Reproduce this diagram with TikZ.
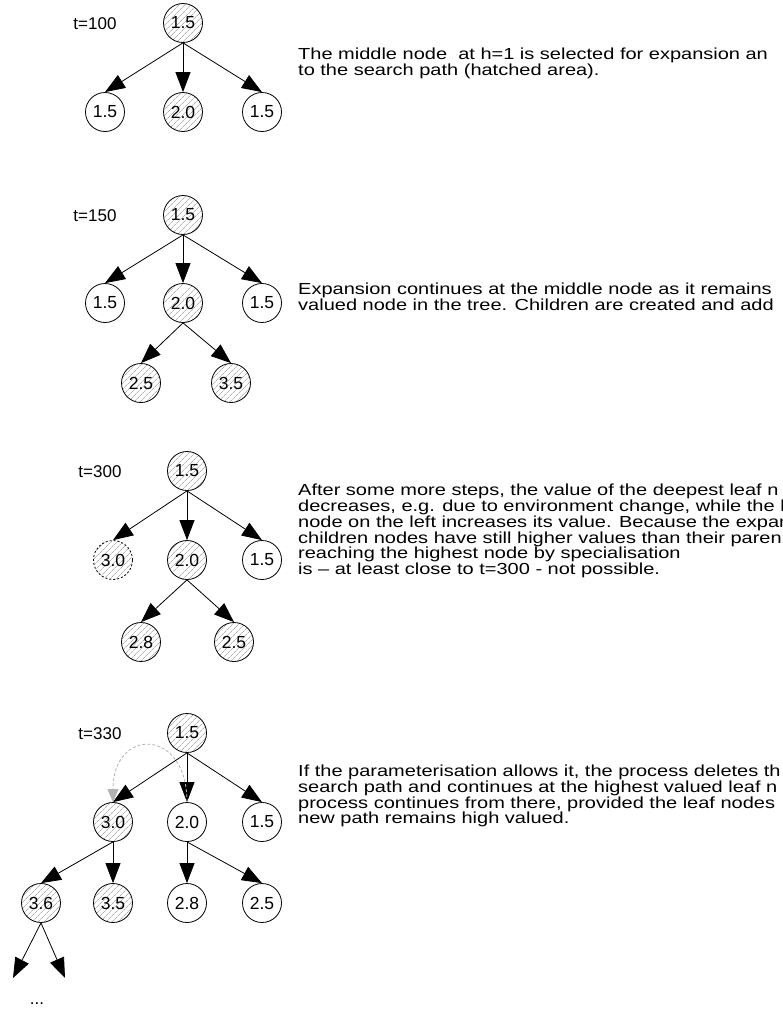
\documentclass[tikz,border=0pt]{standalone}
\usepackage{fontspec}
\setmainfont{Liberation Sans}
\newfontfamily\wfont[FakeStretch=1.25]{Liberation Sans}
\usetikzlibrary{arrows.meta,patterns.meta}
\begin{document}
\begin{tikzpicture}[x=1pt,y=-1pt,
  nd/.style={circle,draw,line width=0.8pt,minimum size=39pt,inner sep=0pt,font=\fontsize{17.5}{18}\selectfont},
  hatch/.style={pattern={Lines[angle=45,distance=4pt,line width=0.7pt]},pattern color=black!30},
  dotted circle/.style={dash pattern=on 2pt off 2pt},
  arr/.style={-{Triangle[length=20pt,width=15pt]},line width=0.8pt},
  back/.style={-{Triangle[length=13pt,width=11pt,fill=black!30]},draw=black!30,line width=0.8pt,dash pattern=on 3pt off 2pt},
  lbl/.style={font=\fontsize{17}{18}\selectfont,inner sep=0pt},
  txt/.style={font=\wfont\fontsize{16}{15.8}\selectfont,align=left,anchor=west,inner sep=0pt}
]
\useasboundingbox (0,0) rectangle (782,1012);
\clip (0,0) rectangle (782,1012);

% ---------- t=100
\node[lbl] (l1) at (95,24) {t=100};
\node[nd,hatch] (a0) at (183,23) {1.5};
\node[nd] (a1) at (105,112) {1.5};
\node[nd,hatch] (a2) at (183,112) {2.0};
\node[nd] (a3) at (262,112) {1.5};
\draw[arr] (a0.south) -- (a1.north);
\draw[arr] (a0.south) -- (a2.north);
\draw[arr] (a0.south) -- (a3.north);
\node[txt] (d1) at (298,63) {The middle node\ \ at h=1 is selected for expansion an\\to the search path (hatched area).};

% ---------- t=150
\node[lbl] (l2) at (95,216) {t=150};
\node[nd,hatch] (b0) at (183,215) {1.5};
\node[nd] (b1) at (105,303) {1.5};
\node[nd,hatch] (b2) at (183,303) {2.0};
\node[nd] (b3) at (262,303) {1.5};
\node[nd,hatch] (b4) at (141,383) {2.5};
\node[nd,hatch] (b5) at (231,383) {3.5};
\draw[arr] (b0.south) -- (b1.north);
\draw[arr] (b0.south) -- (b2.north);
\draw[arr] (b0.south) -- (b3.north);
\draw[arr] (b2.south) -- (b4.north);
\draw[arr] (b2.south) -- (b5.north);
\node[txt] (d2) at (298,297) {Expansion continues at the middle node as it remains\\valued node in the tree. Children are created and add};

% ---------- t=300
\node[lbl] (l3) at (100,472) {t=300};
\node[nd,hatch] (c0) at (187,471) {1.5};
\node[nd,hatch,dotted circle] (c1) at (113,560) {3.0};
\node[nd,hatch] (c2) at (187,560) {2.0};
\node[nd] (c3) at (262,560) {1.5};
\node[nd,hatch] (c4) at (141,642) {2.8};
\node[nd,hatch] (c5) at (234,642) {2.5};
\draw[arr] (c0.south) -- (c1.north);
\draw[arr] (c0.south) -- (c2.north);
\draw[arr] (c0.south) -- (c3.north);
\draw[arr] (c2.south) -- (c4.north);
\draw[arr] (c2.south) -- (c5.north);
\node[txt] (d3) at (298,531) {After some more steps, the value of the deepest leaf n\\decreases, e.g. due to environment change, while the l\\node on the left increases its value. Because the expan\\children nodes have still higher values than their paren\\reaching the highest node by specialisation\\is – at least close to t=300 - not possible.};

% ---------- t=330
\node[lbl] (l4) at (100,734) {t=330};
\node[nd,hatch] (e0) at (187,733) {1.5};
\node[nd,hatch] (e1) at (113,822) {3.0};
\node[nd] (e2) at (187,822) {2.0};
\node[nd] (e3) at (262,822) {1.5};
\node[nd,hatch] (e4) at (41,903) {3.6};
\node[nd,hatch] (e5) at (113,903) {3.5};
\node[nd] (e6) at (187,903) {2.8};
\node[nd] (e7) at (262,903) {2.5};
\coordinate (f1) at (13,978);
\coordinate (f2) at (65,978);
\draw[arr] (e0.south) -- (e1.north);
\draw[arr] (e0.south) -- (e2.north);
\draw[arr] (e0.south) -- (e3.north);
\draw[arr] (e1.south) -- (e4.north);
\draw[arr] (e1.south) -- (e5.north);
\draw[arr] (e2.south) -- (e6.north);
\draw[arr] (e2.south) -- (e7.north);
\draw[arr] (e4.south) -- (f1);
\draw[arr] (e4.south) -- (f2);
\draw[back] (e2.north) .. controls +(0,-75) and +(0,-75) .. (e1.north);
\node[lbl] (dots) at (37,1004) {...};
\node[txt] (d4) at (298,796) {If the parameterisation allows it, the process deletes th\\search path and continues at the highest valued leaf n\\process continues from there, provided the leaf nodes\\new path remains high valued.};
\end{tikzpicture}
\end{document}
